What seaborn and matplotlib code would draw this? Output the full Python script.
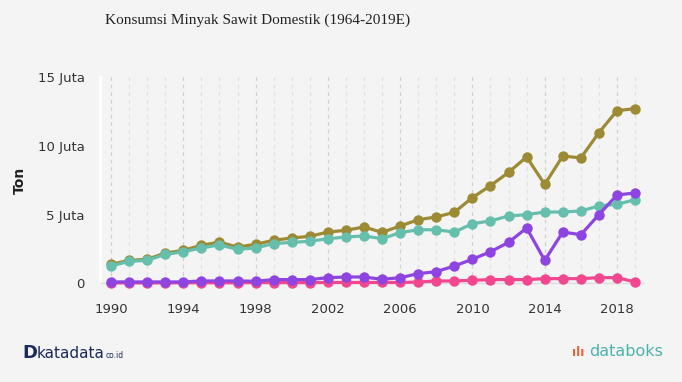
import pandas as pd
import matplotlib.pyplot as plt
import matplotlib.ticker as mticker
import seaborn as sns

# data (juta ton)
years = list(range(1990, 2020))
total = [1.38, 1.67, 1.75, 2.2, 2.4, 2.77, 3.0, 2.64, 2.84, 3.13,
         3.3, 3.42, 3.73, 3.86, 4.1, 3.71, 4.17, 4.63, 4.83, 5.17,
         6.24, 7.11, 8.08, 9.2, 7.2, 9.27, 9.13, 10.97, 12.57, 12.72]
pangan = [1.26, 1.6, 1.67, 2.1, 2.3, 2.57, 2.8, 2.47, 2.57, 2.89,
          2.98, 3.06, 3.25, 3.37, 3.45, 3.25, 3.69, 3.9, 3.9, 3.73,
          4.34, 4.54, 4.9, 5.0, 5.19, 5.19, 5.27, 5.63, 5.75, 6.09]
biodiesel = [0.1, 0.1, 0.1, 0.1, 0.1, 0.17, 0.17, 0.17, 0.15, 0.27,
             0.27, 0.27, 0.41, 0.46, 0.46, 0.29, 0.41, 0.7, 0.85, 1.26,
             1.75, 2.3, 2.98, 4.03, 1.67, 3.73, 3.54, 5.0, 6.43, 6.58]
oleokimia = [0.03, 0.03, 0.03, 0.03, 0.04, 0.04, 0.04, 0.04, 0.05, 0.05,
             0.05, 0.05, 0.06, 0.06, 0.06, 0.06, 0.06, 0.09, 0.17, 0.17,
             0.22, 0.27, 0.27, 0.27, 0.34, 0.34, 0.34, 0.41, 0.41, 0.1]

series = ['Total', 'Pangan', 'Oleokimia', 'Biodiesel']
colors = ['#9c8a35', '#66bfad', '#f0478f', '#8e44e0']

df = pd.DataFrame({'Tahun': years * 4,
                   'Nilai': [v * 1e6 for v in total + pangan + oleokimia + biodiesel],
                   'Seri': ['Total'] * 30 + ['Pangan'] * 30 + ['Oleokimia'] * 30 + ['Biodiesel'] * 30})

bg = '#f4f4f4'
sns.set_style('white')
plt.rcParams['font.family'] = ['DejaVu Sans']

fig = plt.figure(figsize=(6.82, 3.82), dpi=100, facecolor=bg)
ax = fig.add_axes([100 / 682, 1 - 283.3 / 382, 543 / 682, 206 / 382])
ax.set_facecolor(bg)

for name, col in zip(series, colors):
    sub = df[df['Seri'] == name]
    sns.lineplot(data=sub, x='Tahun', y='Nilai', ax=ax, color=col, linewidth=2.3,
                 marker='o', markersize=7.5, markeredgewidth=0, clip_on=False, zorder=3)

ax.set_xlim(1989.39, 2019.44)
ax.set_ylim(0, 15e6)

# grid: each year light dashed, tick years darker
ax.xaxis.set_major_locator(mticker.FixedLocator(range(1990, 2020, 4)))
ax.xaxis.set_minor_locator(mticker.FixedLocator(years))
ax.grid(which='minor', axis='x', linestyle=(0, (3, 3)), color='#e2e2e2', linewidth=0.9)
ax.grid(which='major', axis='x', linestyle=(0, (3, 3)), color='#cfcfcf', linewidth=0.9)
ax.grid(axis='y', visible=False)
ax.set_axisbelow(True)

ax.set_yticks([0, 5e6, 10e6, 15e6])
ax.set_yticklabels(['0', '5 Juta', '10 Juta', '15 Juta'])
ax.tick_params(axis='y', which='both', length=5, width=1.5, color='white',
               labelsize=9.5, labelcolor='#333333', pad=6)
ax.tick_params(axis='x', which='both', length=0, labelsize=9.5, labelcolor='#333333', pad=14)

for s in ['top', 'right']:
    ax.spines[s].set_visible(False)
ax.spines['left'].set_color('white')
ax.spines['left'].set_linewidth(2)
ax.spines['bottom'].set_color('#dcdcdc')
ax.spines['bottom'].set_linewidth(1)

ax.set_xlabel('')
ax.set_ylabel('Ton', fontsize=10, fontweight='bold', color='#222222', labelpad=28)
ax.yaxis.set_label_coords(-73 / 543, 0.5)

fig.text(105 / 682, 1 - 20 / 382, 'Konsumsi Minyak Sawit Domestik (1964-2019E)',
         family='Liberation Serif', fontsize=11, color='#222222', va='center', ha='left')

# logos as text
fig.text(22 / 682, 1 - 353 / 382, 'D', fontsize=13, fontweight='bold', color='#1b2a5c', va='center')
fig.text(37 / 682, 1 - 353 / 382, 'katadata', fontsize=11, color='#1b2a5c', va='center')
fig.text(106 / 682, 1 - 356 / 382, 'co.id', fontsize=5.5, color='#1b2a5c', va='center')
fig.text(572 / 682, 1 - 352 / 382, '\u0131l\u0131', fontsize=9, fontweight='bold', color='#e8643a', va='center')
fig.text(589 / 682, 1 - 352 / 382, 'databoks', fontsize=11.5, color='#4bb3ad', va='center')

plt.savefig('out.png', dpi=100, facecolor=bg)
